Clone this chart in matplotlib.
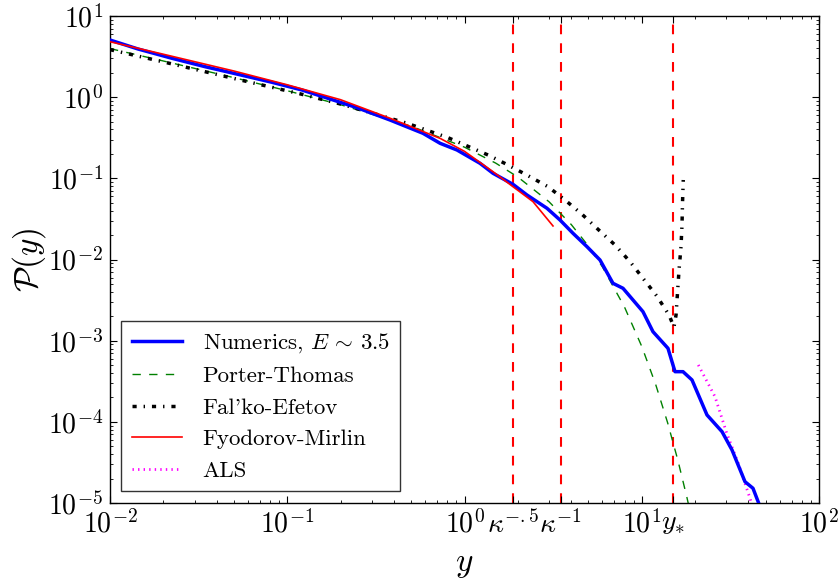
import numpy as np
import matplotlib
matplotlib.use("Agg")
import matplotlib.pyplot as plt
from matplotlib.ticker import NullFormatter

plt.rcParams.update({
    "font.family": "serif",
    "font.serif": ["cmr10", "DejaVu Serif"],
    "mathtext.fontset": "cm",
    "axes.formatter.use_mathtext": True,
    "axes.unicode_minus": False,
    "lines.scale_dashes": False,
    "xtick.direction": "in",
    "ytick.direction": "in",
    "xtick.top": True,
    "ytick.right": True,
    "xtick.major.size": 5,
    "ytick.major.size": 5,
    "xtick.minor.size": 2.5,
    "ytick.minor.size": 2.5,
    "xtick.minor.visible": True,
    "ytick.minor.visible": True,
    "axes.linewidth": 1.0,
})

# ---- data ----
num_x = [0.0100, 0.0144, 0.0224, 0.0344, 0.0527, 0.0820, 0.1211, 0.1591, 0.2474,
         0.380, 0.583, 0.728, 0.907, 1.223, 1.448, 1.877, 2.252, 2.920, 3.458,
         4.094, 4.911, 5.814, 6.882, 7.839, 10.16, 11.57, 14.06, 15.40, 17.09,
         19.21, 23.34, 28.38, 32.30, 38.23, 42.42, 46.5]
num_y = [5.06, 3.92, 3.01, 2.374, 1.913, 1.525, 1.225, 1.013, 0.742,
         0.523, 0.3588, 0.2702, 0.2234, 0.1532, 0.1154, 0.0844, 0.0623, 0.04276, 0.03067,
         0.02103, 0.01438, 0.00986, 0.00509, 0.004418, 0.002276, 0.00129, 0.000805, 0.000415, 0.000415,
         0.000328, 1.215e-4, 7.56e-5, 4.50e-5, 1.83e-5, 1.518e-5, 9.0e-6]

pt_x = [0.01, 0.02, 0.05, 0.1, 0.2, 0.5, 1.0, 1.5, 2.0, 3.0, 4.0, 5.0, 6.0, 8.0,
        10.0, 12.0, 14.0, 16.0, 18.0, 19.0]
pt_y = [3.97, 2.79, 1.74, 1.20, 0.807, 0.439, 0.242, 0.154, 0.1038, 0.0514, 0.0270,
        0.01465, 0.00811, 0.002584, 8.50e-4, 2.86e-4, 9.72e-5, 3.34e-5, 1.16e-5, 6.85e-6]

fe_x = [0.01, 0.02, 0.05, 0.118, 0.206, 0.474, 0.807, 1.357, 1.760, 2.282, 2.959,
        3.690, 4.601, 5.665, 7.066, 8.585, 10.16, 12.19, 14.25, 15.20,
        15.61, 15.91, 16.23, 16.65, 16.87, 16.98, 17.15]
fe_y = [3.85, 2.72, 1.70, 1.10, 0.81, 0.477, 0.317, 0.194, 0.146, 0.1078, 0.0789,
        0.0541, 0.0361, 0.02356, 0.01509, 0.0094, 0.00587, 0.00352, 0.00207, 0.00147,
        0.00207, 0.00387, 0.00743, 0.01438, 0.02662, 0.0497, 0.0954]

fm_x = [0.01, 0.02, 0.05, 0.1, 0.2, 0.38, 0.73, 1.0, 1.448, 1.877, 2.435, 3.157]
fm_y = [4.82, 3.38, 2.10, 1.42, 0.93, 0.55, 0.31, 0.215, 0.1207, 0.0789, 0.0516, 0.0259]

als_x = [20.85, 25.90, 30.16, 35.05, 40.81, 42.5]
als_y = [5.02e-4, 2.04e-4, 7.23e-5, 3.08e-5, 1.14e-5, 8.5e-6]

kappa_inv = 3.5
y_star = 15.0
xtick_vals = [0.01, 0.1, 1.0, np.sqrt(kappa_inv), kappa_inv, 10.0, y_star, 100.0]
xtick_labels = [r"$10^{-2}$", r"$10^{-1}$", r"$10^{0}$", r"$\kappa^{-.5}$",
                r"$\kappa^{-1}$", r"$10^{1}$", r"$y_{*}$", r"$10^{2}$"]

fig = plt.figure(figsize=(8.38, 5.80), dpi=100)
ax = fig.add_axes([110/838, 1 - 503/580, (819-110)/838, (503-16)/580])

ax.plot(num_x, num_y, color="blue", lw=2.5, label=r"Numerics, $E\,\sim\,3.5$", zorder=3)
ax.plot(pt_x, pt_y, color="green", lw=1.0, dashes=(6, 6), label="Porter-Thomas", zorder=2)
ax.plot(fe_x, fe_y, color="black", lw=2.5, dashes=(3, 5, 1, 5), label="Fal'ko-Efetov", zorder=2)
ax.plot(fm_x, fm_y, color="red", lw=1.2, label="Fyodorov-Mirlin", zorder=4)
ax.plot(als_x, als_y, color="magenta", lw=2.0, dashes=(1, 3), label="ALS", zorder=2)

for xv in [np.sqrt(kappa_inv), kappa_inv, y_star]:
    ax.axvline(xv, color="red", lw=1.5, dashes=(7, 6.5), zorder=1)

ax.set_xscale("log")
ax.set_yscale("log")
ax.set_xlim(1e-2, 1e2)
ax.set_ylim(1e-5, 1e1)
ax.set_xticks(xtick_vals)
ax.set_xticklabels(xtick_labels)
ax.xaxis.set_minor_formatter(NullFormatter())
ax.yaxis.set_minor_formatter(NullFormatter())
ax.tick_params(axis="both", which="major", labelsize=20, pad=5)
ax.set_xlabel(r"$y$", fontsize=24, labelpad=9)
ax.set_ylabel(r"$\mathcal{P}(y)$", fontsize=24, labelpad=0)

leg = ax.legend(loc="lower left", fontsize=16.5, frameon=True, fancybox=False,
                edgecolor="black", handlelength=2.2, borderpad=0.45,
                labelspacing=0.5, handletextpad=0.9, borderaxespad=0,
                bbox_to_anchor=(0.016, 0.024))
leg.get_frame().set_linewidth(1.0)

fig.savefig("out.png", dpi=100, facecolor="white")
